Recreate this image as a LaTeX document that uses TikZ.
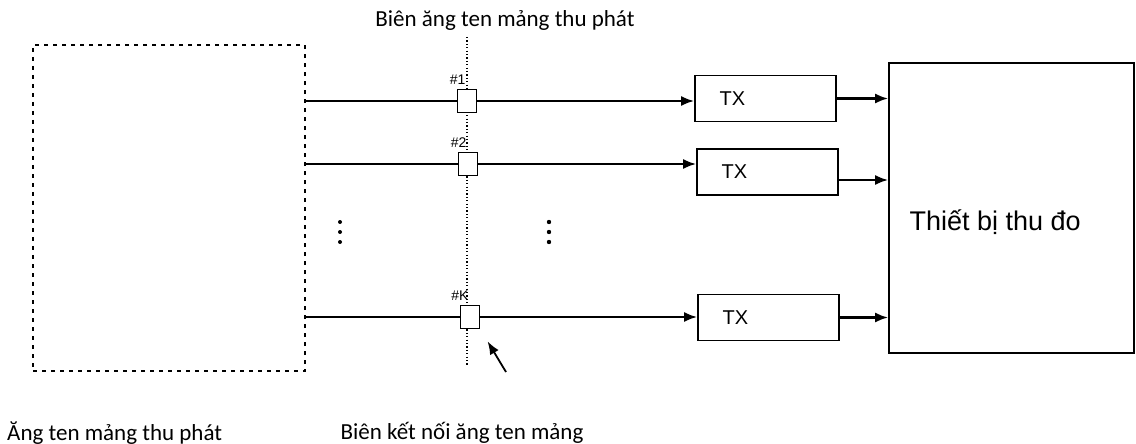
\documentclass[tikz,border=0pt]{standalone}
\usepackage{fontspec}
\setmainfont{Carlito}
\newfontfamily\boxfont{Liberation Sans}
\usepackage{tikz}
\usetikzlibrary{arrows.meta,positioning,calc}
\tikzset{
  antbox/.style={
    draw=black,
    line width=2pt,
    dash pattern=on 4pt off 5pt,
    minimum width=272pt,
    minimum height=326pt,
    inner sep=0pt
  },
  port/.style={
    draw=black,
    fill=white,
    line width=1.8pt,
    minimum width=19pt,
    minimum height=23pt,
    inner sep=0pt
  },
  txbox/.style={
    draw=black,
    line width=1.7pt,
    minimum width=141pt,
    minimum height=46pt,
    inner sep=0pt,
    font=\boxfont\fontsize{20}{24}\selectfont
  },
  meter/.style={
    draw=black,
    line width=1.7pt,
    minimum width=245pt,
    minimum height=290pt,
    inner sep=0pt
  },
  line/.style={-{Latex[length=13pt,width=10pt]}, line width=2.2pt, draw=black},
  plain/.style={line width=2.2pt, draw=black},
  boundary/.style={line width=1.2pt, dash pattern=on 1.2pt off 2.2pt, draw=black},
  smallnote/.style={font=\fontsize{23}{27}\selectfont, inner sep=0pt},
  portlabel/.style={font=\boxfont\fontsize{14}{16}\selectfont, inner sep=0pt}
}
\begin{document}
\begin{tikzpicture}[x=1pt,y=-1pt]
\useasboundingbox (0,0) rectangle (1136,444);

\node[antbox] (ant) at (169,208) {};
\node[meter] (meas) at (1011.5,208) {};
\node[anchor=west] (meastext) at (906,222) {\boxfont\fontsize{27}{30}\selectfont Thiết bị thu đo};

% boundary of the array
\coordinate (btop) at (467,37);
\coordinate (bbot) at (467,365);
\draw[boundary] (btop) -- (bbot);

\node[port] (p1) at (467,101) {};
\node[port] (p2) at (468,164) {};
\node[port] (pK) at (470,317) {};

\node[txbox] (tx1) at (765.5,98.5) {\hspace*{-66pt}TX};
\node[txbox] (tx2) at (767.5,172) {\hspace*{-66pt}TX};
\node[txbox] (tx3) at (768.5,317.5) {\hspace*{-66pt}TX};

\node[portlabel, above left=4pt and -9pt of p1] (l1) {\#1};
\node[portlabel, above left=4pt and -9pt of p2] (l2) {\#2};
\node[portlabel, above left=4pt and -9pt of pK] (lK) {\#K};

\draw[plain] (ant.east |- p1) -- (p1);
\draw[plain] (ant.east |- p2) -- (p2);
\draw[plain] (ant.east |- pK) -- (pK);
\draw[line] (p1) -- (p1 -| tx1.west);
\draw[line] (p2) -- (p2 -| tx2.west);
\draw[line] (pK) -- (pK -| tx3.west);
\draw[line] (tx1) -- (tx1 -| meas.west);
\draw[line] ([yshift=-8pt]tx2.east) -- ([yshift=-8pt]tx2.east -| meas.west);
\draw[line] (tx3) -- (tx3 -| meas.west);

% dots
\foreach \y in {222,232,242} {
  \fill (340,\y) circle (2pt);
  \fill (549,\y) circle (2.2pt);
}

\node[smallnote] (title) at (505,20) {Biên ăng ten mảng thu phát};
\node[smallnote, anchor=west] (antlabel) at (7,433) {Ăng ten mảng thu phát};
\node[smallnote] (edgelabel) at (462,433) {Biên kết nối ăng ten mảng};

\coordinate (ptr) at (506,372);
\draw[line, line width=1.8pt, shorten >=14pt] (ptr) -- (pK.south east);
\end{tikzpicture}
\end{document}
